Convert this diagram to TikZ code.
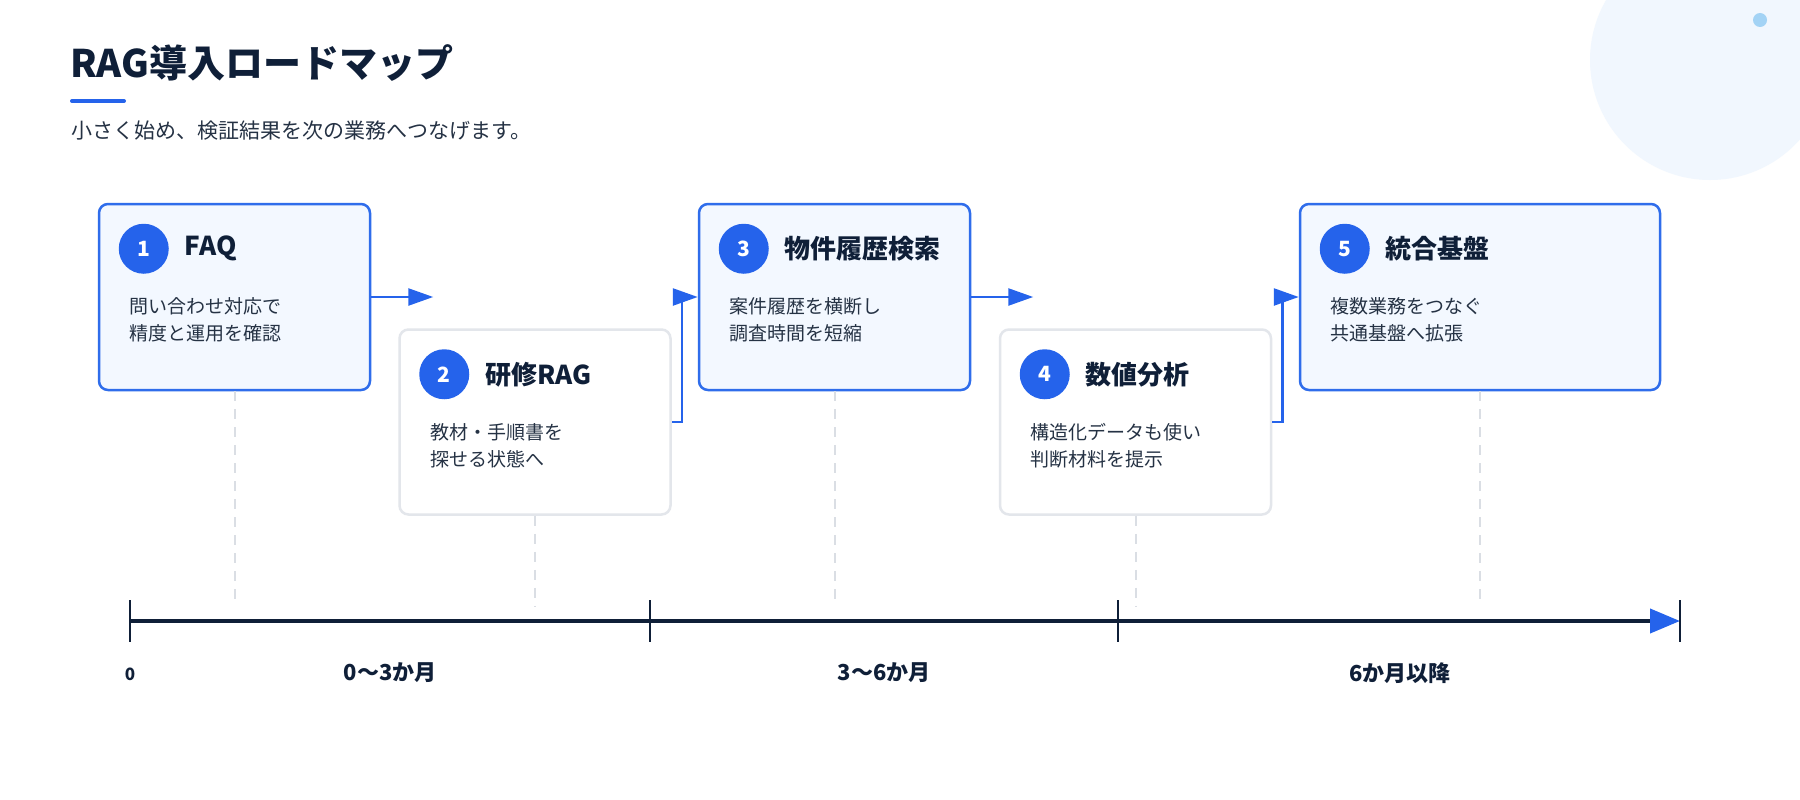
\documentclass[tikz,border=0pt]{standalone}
\usepackage{fontspec}
\setmainfont{Noto Sans CJK JP}
\usetikzlibrary{arrows.meta,calc}
\definecolor{navy}{HTML}{0F1F38}
\definecolor{accent}{HTML}{2563EB}
\definecolor{hiborder}{HTML}{2F6DEB}
\definecolor{hifill}{HTML}{F3F8FF}
\definecolor{grayborder}{HTML}{E3E6EB}
\definecolor{dashc}{HTML}{DADEE4}
\definecolor{bodytext}{HTML}{253244}
\definecolor{bgcirc}{HTML}{F1F7FE}
\definecolor{dotc}{HTML}{A3D3F5}
\tikzset{
  hibox/.style={draw=hiborder, fill=hifill, line width=2.5pt, rounded corners=9pt, minimum width=271pt, minimum height=186pt, inner sep=0pt},
  plainbox/.style={draw=grayborder, fill=white, line width=2.5pt, rounded corners=9pt, minimum width=271pt, minimum height=185pt, inner sep=0pt},
  numc/.style={circle, fill=accent, text=white, minimum size=50pt, inner sep=0pt, font=\bfseries\fontsize{21}{21}\selectfont},
  ttl/.style={anchor=west, inner sep=0pt, text=navy, font=\bfseries\fontsize{26}{26}\selectfont},
  dsc/.style={anchor=north west, inner sep=0pt, align=left, text=bodytext, font=\fontsize{19}{27}\selectfont},
  conn/.style={draw=accent, line width=2.5pt, -{Triangle[length=25pt,width=17pt]}},
  dashline/.style={draw=dashc, line width=2pt, dash pattern=on 10pt off 8pt},
  axisline/.style={draw=navy, line width=4pt, -{Triangle[length=30pt,width=24pt,color=accent]}},
  tickline/.style={draw=navy, line width=2.5pt},
  lbl/.style={inner sep=0pt, text=navy, font=\bfseries\fontsize{22}{22}\selectfont}
}
\begin{document}
\begin{tikzpicture}[x=1pt,y=-1pt]
\clip (0,0) rectangle (1800,800);
\fill[white] (0,0) rectangle (1800,800);
\fill[bgcirc] (1710,60) circle (120pt);
\fill[dotc] (1760,20) circle (7pt);

% header
\node[anchor=west, inner sep=0pt, text=navy, font=\bfseries\fontsize{38}{38}\selectfont] (title) at (70,63) {RAG導入ロードマップ};
\draw[accent, line width=4pt, line cap=round] (72,101) -- (124,101);
\node[anchor=west, inner sep=0pt, text=bodytext, font=\fontsize{21}{21}\selectfont] (sub) at (71,131) {小さく始め、検証結果を次の業務へつなげます。};

% boxes
\node[hibox] (b1) at (234.5,297) {};
\node[plainbox] (b2) at (535,422) {};
\node[hibox] (b3) at (834.5,297) {};
\node[plainbox] (b4) at (1135.5,422) {};
\node[hibox, minimum width=360pt] (b5) at (1480,297) {};

\foreach \b/\n/\t/\da/\db in {
  b1/1/FAQ/問い合わせ対応で/精度と運用を確認,
  b2/2/研修RAG/教材・手順書を/探せる状態へ,
  b3/3/物件履歴検索/案件履歴を横断し/調査時間を短縮,
  b4/4/数値分析/構造化データも使い/判断材料を提示,
  b5/5/統合基盤/複数業務をつなぐ/共通基盤へ拡張}{
  \node[numc] (n\n) at ($(\b.north west)+(46,46)$) {\n};
  \node[ttl] (t\n) at ($(n\n.center)+(41,0)$) {\t};
  \node[dsc] (d\n) at ($(\b.north west)+(32,95)$) {\da\\\db};
}

% connectors
\coordinate (e1) at ($(b1.east)+(62,0)$);
\coordinate (e3) at ($(b3.east)+(62,0)$);
\draw[conn] (b1.east) -- (e1);
\draw[conn] (b2.east) -- ++(10,0) |- (b3.west);
\draw[conn] (b3.east) -- (e3);
\draw[conn] (b4.east) -- ++(10,0) |- (b5.west);

% timeline
\coordinate (ax0) at (130,621);
\coordinate (ax1) at (650,621);
\coordinate (ax2) at (1118,621);
\coordinate (ax3) at (1680,621);

\foreach \b in {b1,b2,b3,b4,b5}{
  \draw[dashline] (\b.south) -- ($(\b.south |- ax0)+(0,-14)$);
}
\draw[axisline] (ax0) -- (ax3);
\foreach \a in {ax0,ax1,ax2,ax3}{
  \draw[tickline] ($(\a)+(0,-21)$) -- ($(\a)+(0,21)$);
}

\node[lbl, font=\bfseries\fontsize{17}{17}\selectfont] (l0) at (130,674) {0};
\node[lbl] (l1) at (390,673) {0〜3か月};
\node[lbl] (l2) at (884,673) {3〜6か月};
\node[lbl] (l3) at (1400,673) {6か月以降};
\end{tikzpicture}
\end{document}
